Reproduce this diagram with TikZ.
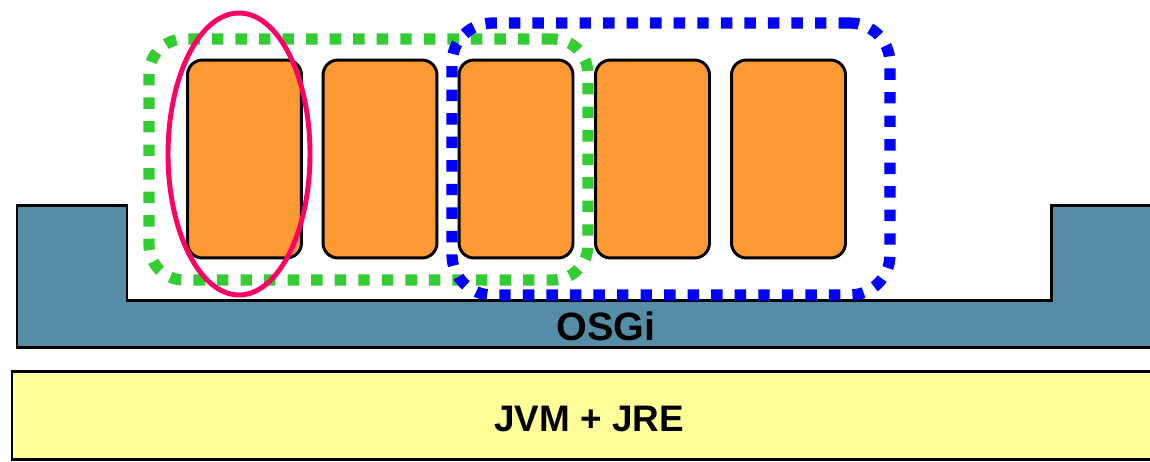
\documentclass[tikz,border=0pt]{standalone}
\usepackage{fontspec}
\setmainfont{Liberation Sans}
\usetikzlibrary{shapes.geometric}
\definecolor{osgiblue}{RGB}{86,141,166}
\definecolor{jvmyellow}{RGB}{255,255,153}
\definecolor{bundleorange}{RGB}{255,153,51}
\definecolor{grpgreen}{RGB}{51,204,51}
\definecolor{grpblue}{RGB}{0,0,255}
\definecolor{grppink}{RGB}{255,0,102}
\tikzset{
  bundle/.style={draw=black, line width=1.7pt, fill=bundleorange, rounded corners=0.3cm,
    minimum width=2.28cm, minimum height=3.96cm, inner sep=0pt},
  grp/.style={line width=6.4pt, dash pattern=on 6.5pt off 6.9pt, inner sep=0pt},
  layer/.style={draw=black, line width=1.7pt},
  lbl/.style={font=\bfseries\fontsize{21}{24}\selectfont, inner sep=0pt}
}
\begin{document}
\begin{tikzpicture}[x=0.02cm, y=-0.02cm]
\useasboundingbox (0,0) rectangle (1150,461);
% JVM layer
\draw[layer, fill=jvmyellow] (12,371) rectangle (1165,459);
\node[lbl] (jvm) at (589,419) {JVM + JRE};
% OSGi layer
\draw[layer, fill=osgiblue] (17,205) -- (127,205) -- (127,300) -- (1051,300) -- (1051,205)
  -- (1165,205) -- (1165,347) -- (17,347) -- cycle;
\node[lbl, font=\bfseries\fontsize{22.5}{26}\selectfont] (osgi) at (606,326) {OSGi};
% bundles
\node[bundle] (b1) at (244.5,159) {};
\node[bundle] (b2) at (380,159) {};
\node[bundle] (b3) at (516,159) {};
\node[bundle] (b4) at (652.5,159) {};
\node[bundle] (b5) at (788.5,159) {};
% groups
\node[grp, draw=grpgreen, rectangle, rounded corners=0.7cm, minimum width=8.78cm, minimum height=4.82cm] (g1) at (368.5,159.5) {};
\node[grp, draw=grpblue, rectangle, rounded corners=0.8cm, minimum width=8.76cm, minimum height=5.44cm] (g2) at (671,159) {};
\node[draw=grppink, line width=2.8pt, ellipse, inner sep=0pt, minimum width=2.84cm, minimum height=5.64cm] (e1) at (239,154) {};
\end{tikzpicture}
\end{document}
